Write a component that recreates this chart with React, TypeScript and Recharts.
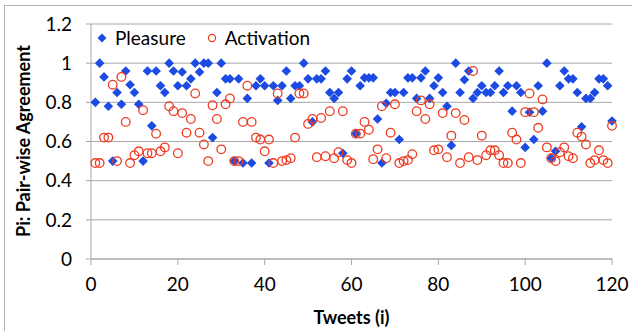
import { ScatterChart, Scatter, XAxis, YAxis, CartesianGrid } from 'recharts';

// Pi agreement per tweet (tweets 1..120)
const pleasure = [
  0.80, 1.00, 0.93, 0.78, 0.50, 0.85, 0.79, 0.96, 0.89, 0.85, 0.79, 0.50, 0.96, 0.68, 0.96, 0.885, 0.85, 1.00, 0.96, 0.885,
  0.955, 0.885, 0.92, 1.00, 0.955, 1.00, 1.00, 0.62, 0.85, 1.00, 0.92, 0.92, 0.50, 0.92, 0.49, 0.82, 0.49, 0.885, 0.92, 0.885,
  0.49, 0.885, 0.81, 0.885, 0.96, 0.82, 0.885, 0.885, 1.00, 0.92, 0.70, 0.92, 0.92, 0.96, 0.85, 0.82, 0.85, 0.54, 0.92, 0.96,
  0.64, 0.885, 0.925, 0.925, 0.925, 0.715, 0.49, 0.795, 0.85, 0.85, 0.61, 0.85, 0.925, 0.925, 0.82, 0.925, 0.96, 0.82, 0.885, 0.925,
  0.85, 0.78, 0.58, 1.00, 0.85, 0.915, 0.96, 0.82, 0.85, 0.885, 0.85, 0.85, 0.885, 0.96, 0.85, 0.885, 0.755, 0.885, 0.85, 0.57,
  0.75, 0.61, 0.885, 0.755, 1.00, 0.515, 0.55, 0.885, 0.96, 0.92, 0.92, 0.85, 0.675, 0.82, 0.82, 0.85, 0.92, 0.92, 0.885, 0.705,
];

const activation = [
  0.49, 0.49, 0.62, 0.62, 0.89, 0.50, 0.93, 0.70, 0.49, 0.53, 0.55, 0.76, 0.54, 0.54, 0.64, 0.55, 0.57, 0.78, 0.755, 0.54,
  0.745, 0.645, 0.715, 0.845, 0.645, 0.585, 0.50, 0.785, 0.715, 0.56, 0.79, 0.82, 0.50, 0.50, 0.70, 0.885, 0.70, 0.62, 0.61, 0.55,
  0.61, 0.49, 0.845, 0.50, 0.505, 0.515, 0.62, 0.845, 0.845, 0.69, 0.715, 0.52, 0.72, 0.525, 0.755, 0.515, 0.545, 0.755, 0.505, 0.49,
  0.64, 0.64, 0.70, 0.66, 0.51, 0.56, 0.78, 0.515, 0.645, 0.79, 0.49, 0.50, 0.505, 0.535, 0.755, 0.81, 0.715, 0.79, 0.555, 0.56,
  0.745, 0.52, 0.63, 0.745, 0.49, 0.71, 0.52, 0.96, 0.505, 0.63, 0.53, 0.555, 0.555, 0.53, 0.49, 0.49, 0.645, 0.61, 0.49, 0.75,
  0.845, 0.75, 0.67, 0.815, 0.57, 0.515, 0.50, 0.545, 0.57, 0.525, 0.515, 0.645, 0.625, 0.585, 0.49, 0.505, 0.555, 0.505, 0.49, 0.68,
];

const xTicks = [0, 20, 40, 60, 80, 100, 120];
const yTicks = [0, 0.2, 0.4, 0.6, 0.8, 1, 1.2];

const pleasureData = pleasure.map((v, i) => ({ x: i + 1, y: v }));
const activationData = activation.map((v, i) => ({ x: i + 1, y: v }));

const BLUE = '#1c4be3';
const RED = '#ee3b1f';
const GRID = '#a8a8a8';
const FONT = 'Lato, "Open Sans", sans-serif';

const Diamond = (props: any) => {
  const { cx, cy } = props;
  if (cx == null || cy == null) return null;
  const r = 4.8;
  return <path d={`M${cx},${cy - r}L${cx + r},${cy}L${cx},${cy + r}L${cx - r},${cy}Z`} fill={BLUE} />;
};

const Ring = (props: any) => {
  const { cx, cy } = props;
  if (cx == null || cy == null) return null;
  return <circle cx={cx} cy={cy} r={4.3} fill="none" stroke={RED} strokeWidth={1.3} />;
};

const fmt = (v: number) => String(Math.round(v * 10) / 10);

export default function App() {
  return (
    <div style={{ position: 'absolute', left: 0, top: 0, width: 632, height: 331, background: '#fff', fontFamily: FONT, overflow: 'hidden' }}>
      {/* chart area frame (only top and left edges show in the crop) */}
      <div style={{ position: 'absolute', left: 4, top: 5, width: 640, height: 340, borderLeft: '1px solid #b5b5b5', borderTop: '1px solid #b5b5b5' }} />
      <ScatterChart width={632} height={331} margin={{ top: 24, right: 20, bottom: 42, left: 0 }}>
        <CartesianGrid vertical={false} stroke={GRID} />
        <XAxis
          type="number"
          dataKey="x"
          domain={[0, 120]}
          ticks={xTicks}
          height={30}
          stroke={GRID}
          tickSize={6}
          tickMargin={13}
          tick={{ fill: '#000', fontSize: 19, fontFamily: FONT }}
        />
        <YAxis
          type="number"
          dataKey="y"
          domain={[0, 1.2]}
          ticks={yTicks}
          width={91}
          stroke={GRID}
          tickSize={5}
          tickMargin={14}
          tickFormatter={fmt}
          tick={{ fill: '#000', fontSize: 19, fontFamily: FONT }}
        />
        <Scatter name="Pleasure" data={pleasureData} shape={Diamond} isAnimationActive={false} />
        <Scatter name="Activation" data={activationData} shape={Ring} isAnimationActive={false} />
      </ScatterChart>

      {/* legend */}
      <div style={{ position: 'absolute', left: 96, top: 26, display: 'flex', alignItems: 'center', fontSize: 19, color: '#000' }}>
        <svg width={12} height={12} style={{ marginRight: 7 }}>
          <path d="M6,1.5L10.5,6L6,10.5L1.5,6Z" fill={BLUE} />
        </svg>
        <span>Pleasure</span>
        <svg width={12} height={12} style={{ marginLeft: 20, marginRight: 7 }}>
          <circle cx={6} cy={6} r={3.6} fill="none" stroke={RED} strokeWidth={1.2} />
        </svg>
        <span>Activation</span>
      </div>

      {/* axis titles */}
      <div style={{ position: 'absolute', left: 91, width: 521, top: 306, textAlign: 'center', fontWeight: 700, fontSize: 18 }}>
        Tweets (i)
      </div>
      <div
        style={{
          position: 'absolute',
          left: 23,
          top: 141,
          transform: 'translate(-50%, -50%) rotate(-90deg)',
          whiteSpace: 'nowrap',
          fontWeight: 700,
          fontSize: 18,
        }}
      >
        Pi: Pair-wise Agreement
      </div>
    </div>
  );
}
